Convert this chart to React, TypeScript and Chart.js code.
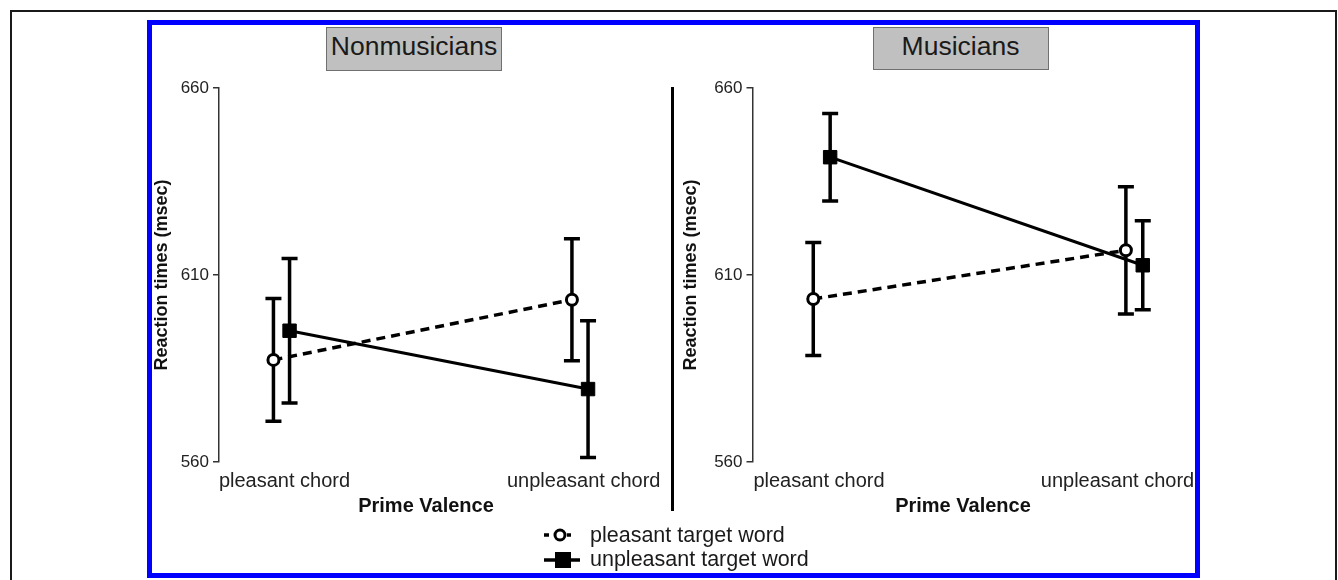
import React, { useEffect, useRef } from 'react';
import { Chart, registerables } from 'chart.js';

Chart.register(...registerables);

// ---------- data ----------
const categories = ['pleasant chord', 'unpleasant chord'];
const seriesNames = ['pleasant target word', 'unpleasant target word'];
const yTicks = [560, 610, 660];

const nonPleasantMeans = [587.3, 603.4];
const nonPleasantErr = [16.4, 16.3];
const nonUnpleasantMeans = [595.1, 579.5];
const nonUnpleasantErr = [19.3, 18.3];

const musPleasantMeans = [603.6, 616.6];
const musPleasantErr = [15.1, 17.0];
const musUnpleasantMeans = [641.5, 612.6];
const musUnpleasantErr = [11.7, 11.9];

const DODGE = 0.027;
const FONT = '"Liberation Sans", Arial, Helvetica, sans-serif';

Chart.defaults.font.family = FONT;

const errorBarPlugin = {
  id: 'errorBars',
  beforeDatasetsDraw(chart: any) {
    const { ctx } = chart;
    const x = chart.scales.x;
    const y = chart.scales.y;
    ctx.save();
    ctx.strokeStyle = '#000';
    ctx.lineWidth = 3.5;
    chart.data.datasets.forEach((ds: any) => {
      ds.data.forEach((p: any, i: number) => {
        const e = ds.errors[i];
        const px = x.getPixelForValue(p.x);
        const top = y.getPixelForValue(p.y + e);
        const bot = y.getPixelForValue(p.y - e);
        ctx.beginPath();
        ctx.moveTo(px, top);
        ctx.lineTo(px, bot);
        ctx.moveTo(px - 8, top);
        ctx.lineTo(px + 8, top);
        ctx.moveTo(px - 8, bot);
        ctx.lineTo(px + 8, bot);
        ctx.stroke();
      });
    });
    ctx.restore();
  },
};

const categoryLabelPlugin = {
  id: 'categoryLabels',
  afterDraw(chart: any, _args: any, opts: any) {
    const { ctx, chartArea } = chart;
    const x = chart.scales.x;
    ctx.save();
    ctx.fillStyle = '#222';
    ctx.font = `20px ${FONT}`;
    ctx.textAlign = 'center';
    ctx.textBaseline = 'middle';
    categories.forEach((c, i) => {
      const px = x.getPixelForValue(i + 1) + (opts.nudge ? opts.nudge[i] : 0);
      ctx.fillText(c, px, chartArea.bottom + 19.5);
    });
    ctx.restore();
  },
};

type PanelProps = {
  left: number;
  width: number;
  yWidth: number;
  xMin: number;
  xMax: number;
  padRight: number;
  nudge: number[];
  pleasant: number[];
  pleasantErr: number[];
  unpleasant: number[];
  unpleasantErr: number[];
};

function Panel(props: PanelProps) {
  const ref = useRef<HTMLCanvasElement>(null);
  useEffect(() => {
    const chart = new Chart(ref.current as HTMLCanvasElement, {
      type: 'line',
      data: {
        datasets: [
          {
            label: seriesNames[0],
            data: props.pleasant.map((v, i) => ({ x: i + 1 - DODGE, y: v })),
            errors: props.pleasantErr,
            borderColor: '#000',
            borderWidth: 3.5,
            borderDash: [9, 6],
            pointStyle: 'circle',
            pointRadius: 5.5,
            pointBorderWidth: 3,
            pointBackgroundColor: '#fff',
            pointBorderColor: '#000',
            tension: 0,
            fill: false,
          } as any,
          {
            label: seriesNames[1],
            data: props.unpleasant.map((v, i) => ({ x: i + 1 + DODGE, y: v })),
            errors: props.unpleasantErr,
            borderColor: '#000',
            borderWidth: 3,
            pointStyle: 'rect',
            pointRadius: 9.5,
            pointBorderWidth: 1,
            pointBackgroundColor: '#000',
            pointBorderColor: '#000',
            tension: 0,
            fill: false,
          } as any,
        ],
      },
      options: {
        animation: false,
        responsive: false,
        devicePixelRatio: 1,
        layout: { padding: { top: 63, right: props.padRight, bottom: 0, left: 0 } },
        plugins: {
          legend: { display: false },
          tooltip: { enabled: false },
          categoryLabels: { nudge: props.nudge },
        } as any,
        scales: {
          x: {
            type: 'linear',
            min: props.xMin,
            max: props.xMax,
            ticks: { display: false },
            grid: { display: false },
            border: { display: false },
            title: {
              display: true,
              text: 'Prime Valence',
              color: '#111',
              font: { size: 20, weight: 'bold', lineHeight: 1.2 },
              padding: { top: 0, bottom: 7 },
            },
            afterFit: (s: any) => {
              s.height = 63;
            },
          },
          y: {
            min: 560,
            max: 660,
            afterBuildTicks: (s: any) => {
              s.ticks = yTicks.map((v) => ({ value: v }));
            },
            ticks: { color: '#222', font: { size: 17 }, padding: 4 },
            grid: {
              display: true,
              drawOnChartArea: false,
              drawTicks: true,
              tickLength: 6,
              color: '#333',
              lineWidth: 1.5,
            },
            border: { display: true, color: '#333', width: 1.5 },
            title: {
              display: true,
              text: 'Reaction times (msec)',
              color: '#111',
              font: { size: 18, weight: 'bold', lineHeight: 1.1 },
              padding: 0,
            },
            afterFit: (s: any) => {
              s.width = props.yWidth;
            },
          },
        } as any,
      },
      plugins: [errorBarPlugin, categoryLabelPlugin],
    });
    return () => chart.destroy();
  }, []);
  return (
    <canvas
      ref={ref}
      width={props.width}
      height={500}
      style={{ position: 'absolute', left: props.left, top: 25, width: props.width, height: 500 }}
    />
  );
}

function TitleBox({ left, top, height, text }: { left: number; top: number; height: number; text: string }) {
  return (
    <div
      style={{
        position: 'absolute',
        left,
        top,
        width: 176,
        height,
        boxSizing: 'border-box',
        border: '1px solid #707070',
        background: '#c0c0c0',
        color: '#1a1a1a',
        fontSize: 26.5,
        lineHeight: '37px',
        textAlign: 'center',
        fontFamily: FONT,
        whiteSpace: 'nowrap',
      }}
    >
      {text}
    </div>
  );
}

export default function App() {
  return (
    <div
      style={{
        position: 'absolute',
        left: 0,
        top: 0,
        width: 1338,
        height: 580,
        overflow: 'hidden',
        background: '#fff',
        fontFamily: FONT,
      }}
    >
      <div
        style={{
          position: 'absolute',
          left: 10,
          top: 10,
          width: 1327,
          height: 620,
          boxSizing: 'border-box',
          border: '2px solid #1a1a1a',
        }}
      />
      <div
        style={{
          position: 'absolute',
          left: 147,
          top: 20,
          width: 1053,
          height: 558,
          boxSizing: 'border-box',
          border: '5px solid #0000ff',
        }}
      />
      <Panel
        left={152}
        width={516}
        yWidth={67}
        xMin={0.7906}
        xMax={2.1776}
        padRight={35}
        nudge={[3, 3.7]}
        pleasant={nonPleasantMeans}
        pleasantErr={nonPleasantErr}
        unpleasant={nonUnpleasantMeans}
        unpleasantErr={nonUnpleasantErr}
      />
      <Panel
        left={681}
        width={514}
        yWidth={71.5}
        xMin={0.7786}
        xMax={2.125}
        padRight={21.6}
        nudge={[-2.7, -16.8]}
        pleasant={musPleasantMeans}
        pleasantErr={musPleasantErr}
        unpleasant={musUnpleasantMeans}
        unpleasantErr={musUnpleasantErr}
      />
      <TitleBox left={326} top={27} height={44} text="Nonmusicians" />
      <TitleBox left={872.5} top={27} height={43} text="Musicians" />
      <div style={{ position: 'absolute', left: 670.5, top: 87, width: 3, height: 424, background: '#000' }} />
      {/* legend */}
      <svg style={{ position: 'absolute', left: 540, top: 525, width: 45, height: 45 }} width={45} height={45}>
        <line x1={4} y1={10} x2={9} y2={10} stroke="#000" strokeWidth={3.5} />
        <circle cx={20} cy={10} r={5} fill="#fff" stroke="#000" strokeWidth={3} />
        <line x1={27} y1={10} x2={31} y2={10} stroke="#000" strokeWidth={3.5} />
        <line x1={4} y1={35} x2={40} y2={35} stroke="#000" strokeWidth={3.5} />
        <rect x={15} y={27} width={16} height={16} fill="#000" />
      </svg>
      <div
        style={{
          position: 'absolute',
          left: 590,
          top: 522.7,
          fontSize: 21.5,
          lineHeight: '24px',
          color: '#1a1a1a',
          whiteSpace: 'nowrap',
        }}
      >
        {seriesNames[0]}
      </div>
      <div
        style={{
          position: 'absolute',
          left: 590,
          top: 547,
          fontSize: 21.5,
          lineHeight: '24px',
          color: '#1a1a1a',
          whiteSpace: 'nowrap',
        }}
      >
        {seriesNames[1]}
      </div>
    </div>
  );
}
